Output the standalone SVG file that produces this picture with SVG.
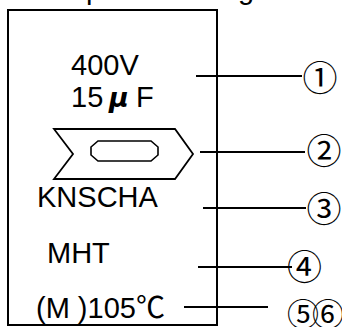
<svg xmlns="http://www.w3.org/2000/svg" width="342" height="327" viewBox="0 0 342 327">
<style>
.t{font-family:"Liberation Sans",Arial,sans-serif;font-size:29px;fill:#000}
.c{font-family:"Noto Sans CJK JP","DejaVu Sans",sans-serif;font-size:35px;fill:#000}
.cs{font-family:"DejaVu Serif","Liberation Serif","Noto Sans CJK JP",serif;font-size:35px;fill:#000}
.cs2{font-family:"DejaVu Serif","Liberation Serif","Noto Sans CJK JP",serif;font-size:32px;fill:#000}
.ln{stroke:#000;stroke-width:2;fill:none}
</style>
<rect width="342" height="327" fill="#fff"/>
<g id="caption">
<text class="t" x="86" y="-1">p</text>
<text class="t" x="238" y="-1">g</text>
</g>
<g id="label-box">
<rect x="8" y="10" width="209" height="315" fill="none" stroke="#000" stroke-width="2"/>
</g>
<g id="rating">
<text class="t" x="71" y="75">400V</text>
<text class="t" x="71" y="107">15</text>
<text x="109" y="107" style="font-family:'DejaVu Sans',sans-serif;font-size:27px;font-style:italic;font-weight:bold">μ</text>
<text class="t" x="136" y="107">F</text>
</g>
<g id="logo">
<polygon points="54,129 175,129 193,154 175,179 54,179 73,154" fill="none" stroke="#000" stroke-width="1.8"/>
<polygon points="98,141 151,141 158,147 158,155 151,161 98,161 91,155 91,147" fill="none" stroke="#000" stroke-width="1.6"/>
</g>
<g id="series">
<text class="t" x="37" y="207">KNSCHA</text>
</g>
<g id="type">
<text class="t" x="47" y="263">MHT</text>
</g>
<g id="temp">
<text class="t" x="36" y="318">(M )105<tspan style="font-family:'Noto Sans CJK JP',sans-serif">℃</tspan></text>
</g>
<g id="connectors" class="ln">
<line x1="196" y1="76" x2="302" y2="76"/>
<line x1="200" y1="152" x2="305" y2="152"/>
<line x1="203" y1="208" x2="306" y2="208"/>
<line x1="198" y1="267" x2="292" y2="267"/>
<line x1="184" y1="307" x2="268" y2="307"/>
</g>
<g id="callouts">
<text class="c" x="302.6" y="90.6">①</text>
<text class="c" x="306.6" y="164">②</text>
<text class="c" x="306.6" y="222">③</text>
<text class="cs" x="287" y="280">④</text>
<text class="cs2" x="287" y="326" letter-spacing="-7">⑤⑥</text>
</g>
</svg>
